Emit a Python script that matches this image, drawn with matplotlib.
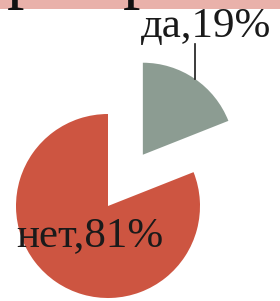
import numpy as np
import matplotlib.pyplot as plt
from matplotlib.patches import Rectangle

labels = ["да", "нет"]
shares = [19, 81]
colors = ["#8c9c92", "#cd5541"]

W, H = 280, 301
fig = plt.figure(figsize=(W / 100, H / 100), dpi=100)
ax = fig.add_axes([0, 0, 1, 1])

radius = 92
center = (108, H - 206)
# explode is in data units here (axes are in pixels)
wedges, _ = ax.pie(shares, colors=colors, startangle=90, counterclock=False,
                   radius=radius, center=center, explode=[62, 0],
                   frame=True, wedgeprops=dict(linewidth=0))
ax.set_xlim(0, W)
ax.set_ylim(0, H)
ax.set_aspect("equal")
ax.axis("off")

font = dict(family="Liberation Serif", fontsize=31, color="#1a1a1a")

# "да" label with vertical leader line
w = wedges[0]
mid = np.deg2rad((w.theta1 + w.theta2) / 2)
px = w.center[0] + radius * np.cos(mid)
py = w.center[1] + radius * np.sin(mid)
ax.plot([px, px], [py, py + 35], color="#1a1a1a", lw=1.2)
ax.text(px + 12, py + 42, f"{labels[0]},{shares[0]}%", ha="center", va="baseline", **font)

# "нет" label inside the big slice
w = wedges[1]
ax.text(w.center[0] - 18, w.center[1] - 30, f"{labels[1]},{shares[1]}%",
        ha="center", va="center", **font)

# cropped title band at the top
fig.patches.append(Rectangle((0, 1 - 9 / H), 1, 9 / H, transform=fig.transFigure,
                             facecolor="#e9b1aa", edgecolor="none"))
for x in [24, 140]:
    fig.text(x / W, 1 + 5 / H, "р", ha="center", va="baseline",
             family="Liberation Serif", fontsize=50, color="#111111")

fig.savefig("out.png", dpi=100)
